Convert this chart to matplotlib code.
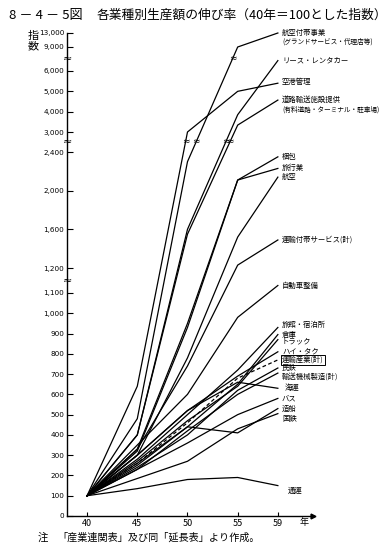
import numpy as np
import matplotlib.pyplot as plt

plt.rcParams['font.family'] = ['Noto Sans CJK JP', 'DejaVu Sans']

years = [40, 45, 50, 55, 59]

# 指数 (40年=100)
kouku_futai = [100, 480, 2300, 9000, 13000]
lease = [100, 400, 1600, 3850, 7300]
kuukou = [100, 640, 3000, 5000, 5400]
douro = [100, 400, 1550, 3340, 4570]
konpou = [100, 330, 950, 2110, 2350]
ryokou = [100, 320, 930, 2110, 2230]
kouku = [100, 300, 780, 1520, 2140]
futai_kei = [100, 330, 740, 1230, 1490]
jidousha = [100, 350, 600, 980, 1130]
ryokan = [100, 280, 500, 720, 930]
souko = [100, 250, 440, 650, 895]
truck = [100, 270, 470, 640, 870]
hitaku = [100, 300, 520, 690, 810]
unyu_kei = [100, 260, 460, 680, 770]
mintetsu = [100, 240, 400, 620, 730]
kikai = [100, 230, 420, 600, 705]
kaiun = [100, 300, 520, 660, 630]
bus = [100, 230, 360, 500, 580]
zousen = [100, 260, 440, 410, 530]
kokutetsu = [100, 185, 270, 430, 505]
tsuun = [100, 135, 180, 190, 150]

series = [
    ("航空付帯事業", kouku_futai),
    ("リース・レンタカー", lease),
    ("空港管理", kuukou),
    ("道路輸送施設提供", douro),
    ("梱包", konpou),
    ("旅行業", ryokou),
    ("航空", kouku),
    ("運輸付帯サービス(計)", futai_kei),
    ("自動車整備", jidousha),
    ("旅館・宿泊所", ryokan),
    ("倉庫", souko),
    ("トラック", truck),
    ("ハイ・タク", hitaku),
    ("運輸産業(計)", unyu_kei),
    ("民鉄", mintetsu),
    ("輸送機械製造(計)", kikai),
    ("海運", kaiun),
    ("バス", bus),
    ("造船", zousen),
    ("国鉄", kokutetsu),
    ("通運", tsuun),
]
sub_labels = {
    "航空付帯事業": "(グランドサービス・代理店等)",
    "道路輸送施設提供": "(有料道路・ターミナル・駐車場)",
}

yticks = [0, 100, 200, 300, 400, 500, 600, 700, 800, 900, 1000, 1100,
          1200, 1600, 2000, 2400, 3000, 4000, 5000, 6000, 9000, 13000]

# broken axis: piecewise linear
seg_v = [0, 1100, 1200, 2400, 3000, 6000, 9000, 13000]
seg_u = [0, 223, 248, 364, 384, 445, 469, 483]
gaps = [1150, 2700, 7500]


def fwd(v):
    return np.interp(v, seg_v, seg_u)


def inv(u):
    return np.interp(u, seg_u, seg_v)


fig = plt.figure(figsize=(3.92, 5.53), dpi=100)
ax = fig.add_axes([67 / 392, 37 / 553, 246 / 392, 483 / 553])
ax.set_yscale('function', functions=(fwd, inv))
ax.set_xlim(38, 62.5)
ax.set_ylim(0, 13000)

# label nudges (points): (dx, dy)
label_off = {"輸送機械製造(計)": (3, -3), "国鉄": (3, -4), "通運": (7, -4),
             "空港管理": (3, 1), "旅館・宿泊所": (3, 1.5), "トラック": (3, -1.5),
             "海運": (5, 0)}

for name, vals in series:
    ls = (0, (3, 2)) if name == "運輸産業(計)" else '-'
    ax.plot(years, vals, color='k', lw=0.9, ls=ls, clip_on=False)
    # break marks where a line crosses an axis break
    for i in range(len(vals) - 1):
        u0, u1 = fwd(vals[i]), fwd(vals[i + 1])
        for g in gaps[1:]:
            ug = fwd(g)
            if (u0 - ug) * (u1 - ug) < 0:
                t = (ug - u0) / (u1 - u0)
                xg = years[i] + t * (years[i + 1] - years[i])
                ax.text(xg, g, '≈', ha='center', va='center', fontsize=6.5,
                        family='DejaVu Sans')
    dx, dy = label_off.get(name, (3, 0))
    box = None
    if name == "運輸産業(計)":
        box = dict(boxstyle='square,pad=0.15', fc='white', ec='k', lw=0.7)
    ax.annotate(name, (years[-1], vals[-1]), xytext=(dx, dy),
                textcoords='offset points', ha='left', va='center',
                fontsize=5.3, bbox=box, annotation_clip=False)
    if name in sub_labels:
        ax.annotate(sub_labels[name], (years[-1], vals[-1]),
                    xytext=(dx, dy - 6.5), textcoords='offset points',
                    ha='left', va='center', fontsize=4.8,
                    annotation_clip=False)

ax.spines['top'].set_visible(False)
ax.spines['right'].set_visible(False)
ax.spines['left'].set_linewidth(1.0)
ax.spines['bottom'].set_linewidth(1.0)

ax.set_yticks(yticks)
ax.set_yticklabels([f"{v:,}" for v in yticks],
                   family=['Liberation Sans Narrow', 'DejaVu Sans'])
ax.yaxis.set_minor_locator(plt.NullLocator())
ax.tick_params(axis='y', direction='in', length=4, width=0.8, pad=2,
               labelsize=5.2)
ax.set_xticks(years)
ax.set_xticklabels([str(y) for y in years])
ax.tick_params(axis='x', direction='in', length=3, width=0.8, pad=2,
               labelsize=6.5)

for g in gaps:
    ax.text(38, g, '≈', ha='center', va='center', fontsize=8,
            family='DejaVu Sans', transform=ax.transData, clip_on=False)

ax.plot(1, 0, '>', color='k', ms=3.5, transform=ax.get_yaxis_transform(),
        clip_on=False)

fig.text(9 / 392, 1 - 15 / 553, "8 － 4 － 5図", fontsize=9.5, va='center')
fig.text(97 / 392, 1 - 15 / 553, "各業種別生産額の伸び率（40年＝100とした指数）",
         fontsize=9.2, va='center')
fig.text(33 / 392, 1 - 41 / 553, "指\n数", fontsize=8, va='center',
         ha='center', linespacing=1.0)
fig.text(300 / 392, 1 - 523 / 553, "年", fontsize=6.5, va='center')
fig.text(38 / 392, 1 - 538 / 553, "注", fontsize=7.5, va='center')
fig.text(57 / 392, 1 - 538 / 553, "「産業連関表」及び同「延長表」より作成。",
         fontsize=7.3, va='center')

fig.savefig("out.png", dpi=100)
